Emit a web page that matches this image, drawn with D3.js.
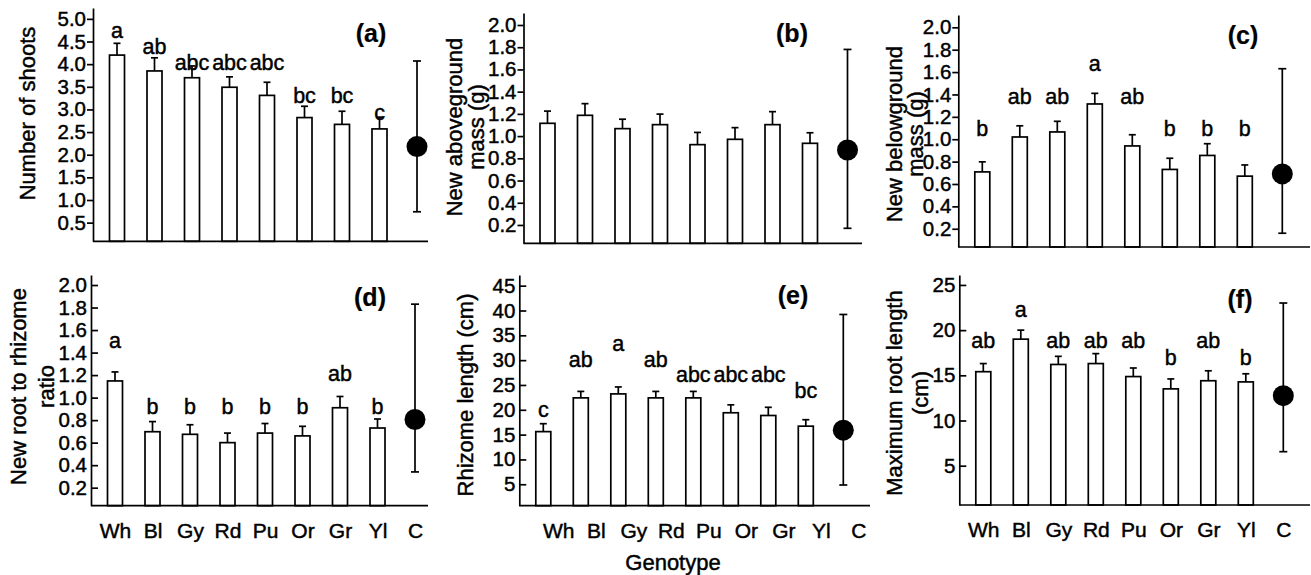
<!DOCTYPE html>
<html>
<head>
<meta charset="utf-8">
<script src="https://cdn.jsdelivr.net/npm/d3@7"></script>
<style>
  body { margin: 0; background: #fff; }
  svg { display: block; font-family: "Liberation Sans", Arial, sans-serif; }
  svg text { fill: #000; stroke: #000; stroke-width: 0.45px; }
  svg text.tag { stroke-width: 0.2px; }
</style>
</head>
<body>
<script>
const genotypes = ["Wh", "Bl", "Gy", "Rd", "Pu", "Or", "Gr", "Yl"];
const control = "C";

// (a) number of shoots
const shootsMean = [4.20, 3.85, 3.70, 3.49, 3.31, 2.82, 2.67, 2.57];
const shootsSE = [0.26, 0.29, 0.26, 0.23, 0.29, 0.25, 0.29, 0.26];
const shootsC = [2.18, 0.74, 4.07]; // mean, low, high
const shootsLetters = ["a", "ab", "abc", "abc", "abc", "bc", "bc", "c"];
const shootsLetterAt = [4.75, 4.38, 4.04, 4.04, 4.04, 3.30, 3.30, 2.94];
const shootsTicks = [0.5, 1.0, 1.5, 2.0, 2.5, 3.0, 3.5, 4.0, 4.5, 5.0];

// (b) new aboveground mass
const aboveMean = [1.115, 1.187, 1.067, 1.103, 0.923, 0.971, 1.103, 0.935];
const aboveSE = [0.11, 0.105, 0.085, 0.095, 0.11, 0.105, 0.117, 0.095];
const aboveC = [0.875, 0.17, 1.78];
const aboveLetters = [];
const aboveLetterAt = [];

// (c) new belowground mass
const belowMean = [0.708, 1.02, 1.065, 1.315, 0.94, 0.73, 0.855, 0.67];
const belowSE = [0.09, 0.10, 0.095, 0.095, 0.10, 0.10, 0.105, 0.10];
const belowC = [0.69, 0.16, 1.63];
const belowLetters = ["b", "ab", "ab", "a", "ab", "b", "b", "b"];
const belowLetterAt = [1.10, 1.38, 1.38, 1.68, 1.38, 1.10, 1.10, 1.10];

// (d) new root to rhizome ratio
const ratioMean = [1.148, 0.697, 0.674, 0.60, 0.685, 0.66, 0.91, 0.73];
const ratioSE = [0.08, 0.09, 0.085, 0.085, 0.085, 0.085, 0.10, 0.08];
const ratioC = [0.806, 0.34, 1.83];
const ratioLetters = ["a", "b", "b", "b", "b", "b", "ab", "b"];
const ratioLetterAt = [1.51, 0.925, 0.925, 0.925, 0.925, 0.925, 1.21, 0.925];

const massTicks = [0.2, 0.4, 0.6, 0.8, 1.0, 1.2, 1.4, 1.6, 1.8, 2.0];

// (e) rhizome length
const rhizMean = [15.6, 22.4, 23.2, 22.4, 22.4, 19.4, 18.85, 16.7];
const rhizSE = [1.6, 1.3, 1.4, 1.3, 1.3, 1.6, 1.65, 1.3];
const rhizC = [15.9, 4.85, 39.2];
const rhizLetters = ["c", "ab", "a", "ab", "abc", "abc", "abc", "bc"];
const rhizLetterAt = [20.1, 30.2, 33.3, 30.2, 27.1, 27.1, 27.1, 23.8];
const rhizTicks = [5, 10, 15, 20, 25, 30, 35, 40, 45];

// (f) maximum root length
const rootMean = [15.4, 19.0, 16.2, 16.3, 14.86, 13.5, 14.4, 14.27];
const rootSE = [0.9, 1.0, 0.9, 1.1, 0.95, 1.1, 1.1, 0.9];
const rootC = [12.75, 6.55, 23.0];
const rootLetters = ["ab", "a", "ab", "ab", "ab", "b", "ab", "b"];
const rootLetterAt = [18.9, 22.3, 18.9, 18.9, 18.9, 17.0, 18.9, 17.0];
const rootTicks = [5, 10, 15, 20, 25];

const W = 1311, H = 575;

const svg = d3.select("body").append("svg")
  .attr("width", W)
  .attr("height", H);

svg.append("rect").attr("width", W).attr("height", H).attr("fill", "#fff");

const panels = [
  {tag: "(a)", ax: 93, ex: 428, top: 8, base: 241.3, dom: [0.088, 5.24],
   mean: shootsMean, se: shootsSE, ctrl: shootsC, letters: shootsLetters, letterAt: shootsLetterAt,
   ticks: shootsTicks, inward: false, xlab: false,
   title: ["Number of shoots"], titleX: [35], titleY: 113.5, tagX: 371, tagY: 33},
  {tag: "(b)", ax: 523.5, ex: 862, top: 13, base: 243.3, dom: [0.035, 2.108],
   mean: aboveMean, se: aboveSE, ctrl: aboveC, letters: aboveLetters, letterAt: aboveLetterAt,
   ticks: massTicks, inward: false, xlab: false,
   title: ["New aboveground", "mass (g)"], titleX: [462, 484], titleY: 127, tagX: 792, tagY: 33},
  {tag: "(c)", ax: 958.3, ex: 1310, top: 15, base: 247, dom: [0.037, 2.11],
   mean: belowMean, se: belowSE, ctrl: belowC, letters: belowLetters, letterAt: belowLetterAt,
   ticks: massTicks, inward: false, xlab: false,
   title: ["New belowground", "mass (g)"], titleX: [902, 923], titleY: 134, tagX: 1243, tagY: 35},
  {tag: "(d)", ax: 91, ex: 428, top: 275, base: 505.7, dom: [0.04, 2.089],
   mean: ratioMean, se: ratioSE, ctrl: ratioC, letters: ratioLetters, letterAt: ratioLetterAt,
   ticks: massTicks, inward: true, xlab: true, labShift: 0,
   title: ["New root to rhizome", "ratio"], titleX: [26, 54], titleY: 386.5, tagX: 370, tagY: 297},
  {tag: "(e)", ax: 519.3, ex: 870, top: 275, base: 505.7, dom: [0.68, 47.15],
   mean: rhizMean, se: rhizSE, ctrl: rhizC, letters: rhizLetters, letterAt: rhizLetterAt,
   ticks: rhizTicks, inward: true, xlab: true, labShift: 15,
   title: ["Rhizome length (cm)"], titleX: [473], titleY: 395, tagX: 793, tagY: 295},
  {tag: "(f)", ax: 959.3, ex: 1310, top: 275, base: 505, dom: [0.65, 26.1],
   mean: rootMean, se: rootSE, ctrl: rootC, letters: rootLetters, letterAt: rootLetterAt,
   ticks: rootTicks, inward: true, xlab: true, labShift: 0,
   title: ["Maximum root length", "(cm)"], titleX: [902, 928], titleY: 393, tagX: 1240, tagY: 299}
];

const barW = 15;

panels.forEach(function(p) {
  const g = svg.append("g");

  const x = d3.scalePoint()
    .domain(genotypes.concat([control]))
    .range([p.ax + 24, p.ax + 324]);

  const y = d3.scaleLinear()
    .domain(p.dom)
    .range([p.base, p.top]);

  const rows = genotypes.map((k, i) => ({k: k, m: p.mean[i], se: p.se[i]}));

  // bars
  g.selectAll("rect.bar")
    .data(rows)
    .enter()
    .append("rect")
    .attr("class", "bar")
    .attr("x", d => x(d.k) - barW / 2)
    .attr("y", d => y(d.m))
    .attr("width", barW)
    .attr("height", d => p.base - y(d.m))
    .attr("fill", "#fff")
    .attr("stroke", "#000")
    .attr("stroke-width", 1.7);

  // upper error bars
  g.selectAll("line.err")
    .data(rows)
    .enter()
    .append("line")
    .attr("x1", d => x(d.k))
    .attr("x2", d => x(d.k))
    .attr("y1", d => y(d.m))
    .attr("y2", d => y(d.m + d.se))
    .attr("stroke", "#000")
    .attr("stroke-width", 1.7);

  g.selectAll("line.cap")
    .data(rows)
    .enter()
    .append("line")
    .attr("x1", d => x(d.k) - 3.5)
    .attr("x2", d => x(d.k) + 3.5)
    .attr("y1", d => y(d.m + d.se))
    .attr("y2", d => y(d.m + d.se))
    .attr("stroke", "#000")
    .attr("stroke-width", 1.7);

  // control: mean with range
  const cx = x(control);
  g.append("line")
    .attr("x1", cx).attr("x2", cx)
    .attr("y1", y(p.ctrl[1])).attr("y2", y(p.ctrl[2]))
    .attr("stroke", "#000").attr("stroke-width", 1.7);
  [p.ctrl[1], p.ctrl[2]].forEach(v => {
    g.append("line")
      .attr("x1", cx - 4).attr("x2", cx + 4)
      .attr("y1", y(v)).attr("y2", y(v))
      .attr("stroke", "#000").attr("stroke-width", 1.7);
  });
  g.append("circle")
    .attr("cx", cx)
    .attr("cy", y(p.ctrl[0]))
    .attr("r", 10.5)
    .attr("fill", "#000");

  // significance letters
  g.selectAll("text.letter")
    .data(p.letters)
    .enter()
    .append("text")
    .attr("x", (d, i) => x(genotypes[i]))
    .attr("y", (d, i) => y(p.letterAt[i]))
    .attr("dy", "0.35em")
    .attr("text-anchor", "middle")
    .attr("font-size", 21.5)
    .text(d => d);

  // y axis
  const yAxis = d3.axisLeft(y)
    .tickValues(p.ticks)
    .tickFormat(p.ticks[0] < 1 ? d3.format(".1f") : d3.format("d"))
    .tickSizeOuter(0)
    .tickSizeInner(p.inward ? -7 : 6)
    .tickPadding(p.inward ? 4 : 1);

  const ya = g.append("g")
    .attr("transform", "translate(" + p.ax + ",0)")
    .call(yAxis);
  ya.selectAll("path, line").attr("stroke", "#000").attr("stroke-width", 1.7);
  ya.selectAll("text").attr("font-size", 20.5)
    .attr("font-family", "Liberation Sans, Arial, sans-serif");

  // x axis line
  g.append("line")
    .attr("x1", p.ax).attr("x2", p.ex)
    .attr("y1", p.base).attr("y2", p.base)
    .attr("stroke", "#000").attr("stroke-width", 1.7);

  if (p.xlab) {
    const xa = g.append("g")
      .attr("transform", "translate(" + p.labShift + "," + p.base + ")")
      .call(d3.axisBottom(x).tickSize(0).tickPadding(17));
    xa.select(".domain").remove();
    xa.selectAll("text").attr("font-size", 21)
      .attr("font-family", "Liberation Sans, Arial, sans-serif");
  }

  // y title
  p.title.forEach((t, i) => {
    g.append("text")
      .attr("transform", "translate(" + p.titleX[i] + "," + p.titleY + ") rotate(-90)")
      .attr("text-anchor", "middle")
      .attr("font-size", 22)
      .text(t);
  });

  // panel tag
  g.append("text")
    .attr("class", "tag")
    .attr("x", p.tagX)
    .attr("y", p.tagY)
    .attr("dy", "0.35em")
    .attr("text-anchor", "middle")
    .attr("font-size", 25)
    .attr("font-weight", "bold")
    .text(p.tag);
});

svg.append("text")
  .attr("x", 673)
  .attr("y", 562)
  .attr("dy", "0.35em")
  .attr("text-anchor", "middle")
  .attr("font-size", 22)
  .text("Genotype");
</script>
</body>
</html>
